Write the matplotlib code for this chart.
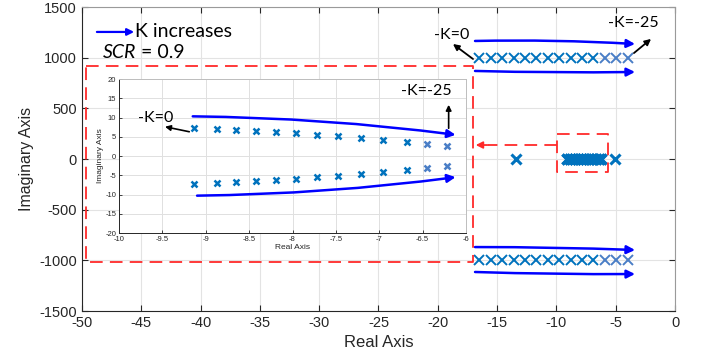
import matplotlib
matplotlib.use("Agg")
import matplotlib.pyplot as plt
from matplotlib.ticker import FormatStrFormatter

plt.rcParams["font.family"] = ["Liberation Sans", "DejaVu Sans"]
plt.rcParams["axes.unicode_minus"] = False

# main plot: closed-loop poles
ROW_X = [-16.5, -15.55, -14.6, -13.6, -12.65, -11.7, -10.7,
         -9.75, -8.8, -7.85, -6.9, -5.9, -4.95, -4.0]
ROW_Y = [1000, -1000]
SINGLE_X = [-13.4, -5.06]

# inset: dominant pole pair
CLUSTER_X = [-9.14, -8.87, -8.65, -8.42, -8.19, -7.96, -7.72,
             -7.48, -7.21, -6.96, -6.68, -6.45, -6.22]
CLUSTER_Y = [7.2, 7.0, 6.7, 6.45, 6.2, 5.95, 5.55, 5.2, 4.8, 4.25, 3.7, 3.1, 2.5]

XTICKS = [-50, -45, -40, -35, -30, -25, -20, -15, -10, -5, 0]
YTICKS = [-1500, -1000, -500, 0, 500, 1000, 1500]
IN_XTICKS = [-10, -9.5, -9, -8.5, -8, -7.5, -7, -6.5, -6]
IN_YTICKS = [-20, -15, -10, -5, 0, 5, 10, 15, 20]

BLUE = "#0072BD"
BLUE_LIGHT = "#4a7ec6"
RED = "#ff2a2a"
ANNOT_FONT = ["Lato", "DejaVu Sans"]


def arrow(ax, start, end, color="blue", rad=0.0, lw=1.8, ms=12):
    ax.annotate("", xy=end, xytext=start,
                arrowprops=dict(arrowstyle="-|>", color=color, lw=lw,
                                mutation_scale=ms, shrinkA=0, shrinkB=0,
                                connectionstyle=f"arc3,rad={rad}"))


fig = plt.figure(figsize=(7.06, 3.6), dpi=100)
ax = fig.add_axes([0.1161, 0.1361, 0.840, 0.8444])

# pole rows at +/-1000j
n_dark = len(ROW_X) - 3
for y in ROW_Y:
    ax.plot(ROW_X[:n_dark], [y] * n_dark, "x", color=BLUE, ms=7, mew=1.4)
    ax.plot(ROW_X[n_dark:], [y] * 3, "x", color=BLUE_LIGHT, ms=7, mew=1.4)
ax.plot(SINGLE_X, [0, 0], "x", color=BLUE, ms=7, mew=2.2)
ax.plot(CLUSTER_X + CLUSTER_X, [0] * (2 * len(CLUSTER_X)), "x",
        color=BLUE, ms=7, mew=2.4)

ax.set_xlim(-50, 0)
ax.set_ylim(-1500, 1500)
ax.set_xticks(XTICKS)
ax.set_yticks(YTICKS)
ax.tick_params(direction="in", top=True, right=True, length=4,
               labelsize=10.5, colors="#262626", width=0.8)
ax.grid(color="#e3e3e3", lw=0.8)
ax.set_axisbelow(True)
for s in ["left", "bottom"]:
    ax.spines[s].set_color("#262626")
for s in ["top", "right"]:
    ax.spines[s].set_color("#9a9a9a")
ax.set_xlabel("Real Axis", fontsize=12, color="#262626", labelpad=4)
ax.set_ylabel("Imaginary Axis", fontsize=11.5, color="#262626", labelpad=4)

# red dashed frames
dash = (0, (7, 4))
ax.plot([-49.66, -17.03, -17.03, -49.66, -49.66],
        [918, 918, -1017, -1017, 918], color=RED, lw=1.3, ls=dash)
ax.plot([-9.95, -5.65, -5.65, -9.95, -9.95],
        [247, 247, -128, -128, 247], color=RED, lw=1.3, ls=dash)
ax.plot([-9.95, -15.8], [138, 138], color=RED, lw=1.3, ls=dash)
arrow(ax, (-15.8, 138), (-16.8, 138), color=RED, lw=1.3, ms=10)

# blue "K increases" arrows
arrow(ax, (-16.86, 1165), (-3.37, 1135), rad=-0.02)
arrow(ax, (-16.86, 869), (-3.37, 859), rad=0.01)
arrow(ax, (-16.86, -869), (-3.37, -898), rad=-0.01)
arrow(ax, (-16.86, -1115), (-3.37, -1135), rad=0.01)

# black labels
arrow(ax, (-17.03, 987), (-18.72, 1135), color="black", lw=1.3, ms=9)
ax.text(-18.8, 1224, "-K=0", fontsize=11.5, family=ANNOT_FONT,
        ha="center", va="center")
arrow(ax, (-3.46, 1046), (-2.02, 1185), color="black", lw=1.3, ms=9)
ax.text(-3.54, 1343, "-K=-25", fontsize=11.5, family=ANNOT_FONT,
        ha="center", va="center")

# legend-like note
arrow(ax, (-48.74, 1254), (-45.6, 1254), lw=1.6, ms=10)
ax.text(-45.55, 1254, "K increases", fontsize=14, family=ANNOT_FONT,
        ha="left", va="center")
t = ax.text(-48.23, 1056, "SCR", fontsize=14, family=ANNOT_FONT,
            style="italic", ha="left", va="center")
ax.annotate(" = 0.9", xy=(1, 0.5), xycoords=t, fontsize=14,
            family=ANNOT_FONT, ha="left", va="center")

# inset
axi = fig.add_axes([119 / 706, 1 - 233 / 360, 347 / 706, 154 / 360])
n_in = len(CLUSTER_X) - 2
for sgn in (1, -1):
    axi.plot(CLUSTER_X[:n_in], [sgn * v for v in CLUSTER_Y[:n_in]], "x",
             color=BLUE, ms=4.5, mew=1.8)
    axi.plot(CLUSTER_X[n_in:], [sgn * v for v in CLUSTER_Y[n_in:]], "x",
             color=BLUE_LIGHT, ms=4.5, mew=1.8)
axi.set_xlim(-10, -6)
axi.set_ylim(-20, 20)
axi.set_xticks(IN_XTICKS)
axi.set_yticks(IN_YTICKS)
axi.xaxis.set_major_formatter(FormatStrFormatter("%g"))
axi.yaxis.set_major_formatter(FormatStrFormatter("%g"))
axi.tick_params(direction="in", labelsize=5.5, length=2.5, width=0.6,
                colors="#262626", pad=2)
axi.grid(color="#e0e0e0", lw=0.7)
axi.set_axisbelow(True)
for s in ["left", "bottom"]:
    axi.spines[s].set_color("#262626")
    axi.spines[s].set_linewidth(0.7)
for s in ["top", "right"]:
    axi.spines[s].set_color("#bdbdbd")
    axi.spines[s].set_linewidth(0.7)
axi.set_xlabel("Real Axis", fontsize=6, color="#262626", labelpad=1)
axi.set_ylabel("Imaginary Axis", fontsize=6, color="#262626", labelpad=1)

arrow(axi, (-9.15, 10.3), (-6.12, 5.5), rad=-0.03)
arrow(axi, (-9.1, -10.3), (-6.12, -5.5), rad=0.03)
arrow(axi, (-9.19, 6.3), (-9.47, 7.6), color="black", lw=1.2, ms=8)
axi.text(-9.58, 10.0, "-K=0", fontsize=11.5, family=ANNOT_FONT,
         ha="center", va="center")
arrow(axi, (-6.2, 7.2), (-6.2, 13.3), color="black", lw=1.2, ms=8)
axi.text(-6.46, 16.9, "-K=-25", fontsize=11.5, family=ANNOT_FONT,
         ha="center", va="center")

fig.savefig("out.png", dpi=100)
